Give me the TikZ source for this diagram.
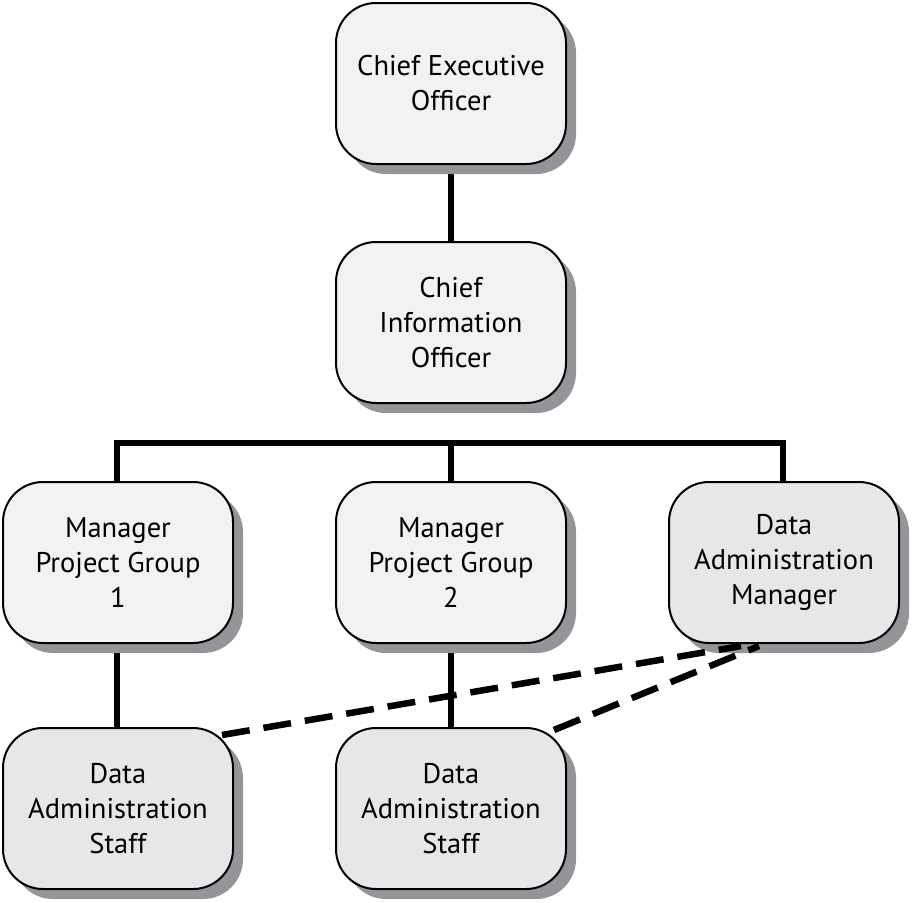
\documentclass[tikz,border=0pt]{standalone}
\usepackage{fontspec}
\setmainfont{PT Sans}
\usetikzlibrary{shadows}
\definecolor{boxA}{HTML}{F2F2F2}
\definecolor{boxB}{HTML}{E6E7E8}
\definecolor{shadowgray}{HTML}{939598}
\begin{document}
\begin{tikzpicture}[x=1pt,y=-1pt,
  orgbox/.style={draw=black, line width=2pt, rounded corners=40pt,
    minimum width=230pt, minimum height=161pt, align=center,
    inner sep=0pt,
    font=\fontsize{28.5}{35}\selectfont,
    drop shadow={shadow xshift=10pt, shadow yshift=-10pt, fill=shadowgray, opacity=1}},
  lightbox/.style={orgbox, fill=boxA},
  greybox/.style={orgbox, fill=boxB},
  conn/.style={line width=5.5pt},
  dconn/.style={line width=6.5pt, dash pattern=on 28pt off 14pt}]
\useasboundingbox (0,0) rectangle (912,902);
\coordinate (bus) at (451,443);
\coordinate (busL) at (117,443);
\coordinate (busR) at (783,443);
\draw[conn] (451,83) -- (451,322);
\draw[conn, line cap=rect] (busL) -- (busR);
\draw[conn] (busL) -- (117,562);
\draw[conn] (busR) -- (783,562);
\draw[conn] (bus) -- (451,562);
\draw[conn] (117,562) -- (117,808);
\draw[conn] (451,562) -- (451,808);
\node[lightbox] (ceo) at (451,83.5) {Chief Executive\\Officer};
\node[lightbox] (cio) at (451,322.5) {Chief\\Information\\Officer};
\node[lightbox] (m1) at (118,562.5) {Manager\\Project Group\\1};
\node[lightbox] (m2) at (451,562.5) {Manager\\Project Group\\2};
\node[greybox] (dam) at (784,562.5) {Data\\Administration\\Manager};
\node[greybox] (s1) at (118,808.5) {Data\\Administration\\Staff};
\node[greybox] (s2) at (451,808.5) {Data\\Administration\\Staff};
\coordinate (d1) at (741,646);
\coordinate (d2) at (759,646);
\coordinate (e1) at (222,735);
\coordinate (e2) at (554,730);
\draw[dconn] (e1) -- (d1);
\draw[dconn] (e2) -- (d2);
\end{tikzpicture}
\end{document}
